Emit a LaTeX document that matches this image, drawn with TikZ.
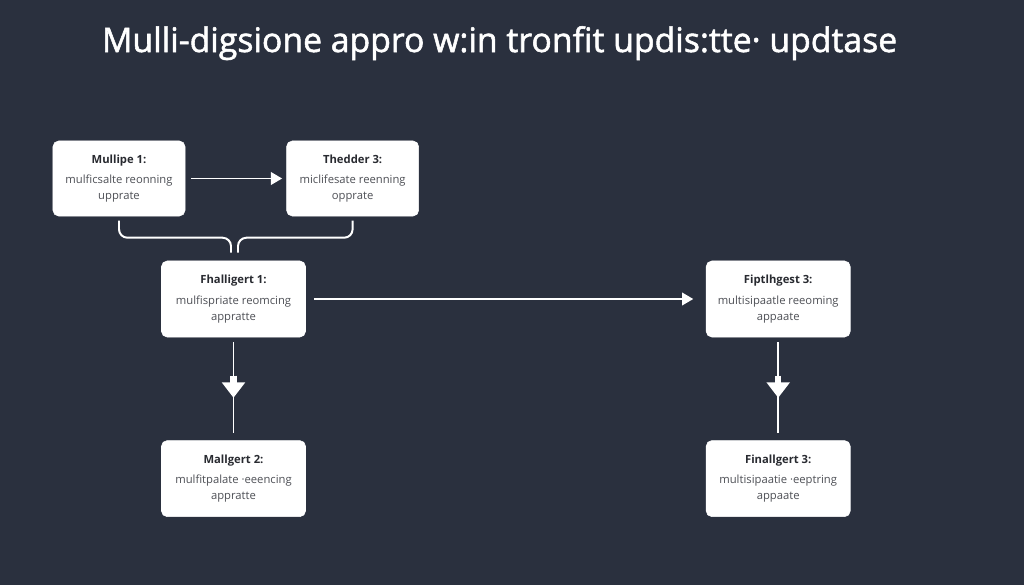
\documentclass[tikz,border=0pt]{standalone}
\usepackage{fontspec}
\setmainfont{Open Sans}
\usetikzlibrary{arrows.meta,positioning,calc,decorations.markings}

\definecolor{bgnavy}{RGB}{42,48,62}
\definecolor{boxtitle}{RGB}{40,42,48}
\definecolor{boxbody}{RGB}{78,80,86}

\begin{document}
\begin{tikzpicture}[x=0.025cm, y=-0.025cm, >={Triangle[length=8pt,width=9pt]},
    stage/.style={draw=white, fill=white, rounded corners=4pt, align=center,
                  minimum width=3.3cm, minimum height=1.875cm, inner sep=2pt,
                  font=\fontsize{8}{11.4}\selectfont, text=boxbody},
    wide/.style={stage, minimum width=3.6cm, minimum height=1.9cm},
    link/.style={draw=white, line width=1.4pt},
    midhead/.style={link, postaction={decorate}, decoration={markings,
        mark=at position 0.5 with {\draw[white, line width=4.5pt,
            -{Triangle[length=11pt,width=16pt]}] (-12.8pt,0) -- (11.4pt,0);}}}]
  \fill[bgnavy] (0,0) rectangle (1024,585);
  \useasboundingbox (0,0) rectangle (1024,585);

  \node[anchor=base west, text=white, font=\fontsize{24}{28}\selectfont\addfontfeature{FakeBold=1.6}] (title) at (97,52)
    {Mulli-digsione appro w:in tronfit updis:tte\textperiodcentered\ updtase};

  \node[stage] (mul1) at (119,178.5)
    {\textcolor{boxtitle}{\bfseries Mullipe 1:}\\[3pt] mulficsalte reonning\\ upprate};
  \node[stage, right=2.525cm of mul1] (the3)
    {\textcolor{boxtitle}{\bfseries Thedder 3:}\\[3pt] miclifesate reenning\\ opprate};
  \node[wide] (fha1) at (233.5,299)
    {\textcolor{boxtitle}{\bfseries Fhalligert 1:}\\[3pt] mulfispriate reomcing\\ appratte};
  \node[wide, right=10cm of fha1] (fip3)
    {\textcolor{boxtitle}{\bfseries Fiptlhgest 3:}\\[3pt] multisipaatle reeoming\\ appaate};
  \node[wide, below=2.575cm of fha1] (mal2)
    {\textcolor{boxtitle}{\bfseries Mallgert 2:}\\[3pt] mulfitpalate \textperiodcentered eeencing\\ appratte};
  \node[wide, below=2.575cm of fip3] (fin3)
    {\textcolor{boxtitle}{\bfseries Finallgert 3:}\\[3pt] multisipaatie \textperiodcentered eeptring\\ appaate};

  \coordinate (jl) at ($(fha1.north)+(-2.5,-8)$);
  \coordinate (jr) at ($(fha1.north)+(4.5,-8)$);

  \draw[link, ->, shorten <=4pt, shorten >=3pt] (mul1) -- (the3);
  \draw[link, ->, shorten <=6pt, shorten >=9pt] (fha1) -- (fip3);
  \draw[link, rounded corners=6pt, shorten <=3pt] (mul1.south) |- ($(jl)+(0,-15)$) -- (jl);
  \draw[link, rounded corners=6pt, shorten <=3pt] (the3.south) |- ($(jr)+(0,-15)$) -- (jr);
  \draw[midhead, shorten <=3.5pt, shorten >=5pt] (fha1.south) -- (mal2.north);
  \draw[midhead, shorten <=3.5pt, shorten >=5pt] (fip3.south) -- (fin3.north);
\end{tikzpicture}
\end{document}
